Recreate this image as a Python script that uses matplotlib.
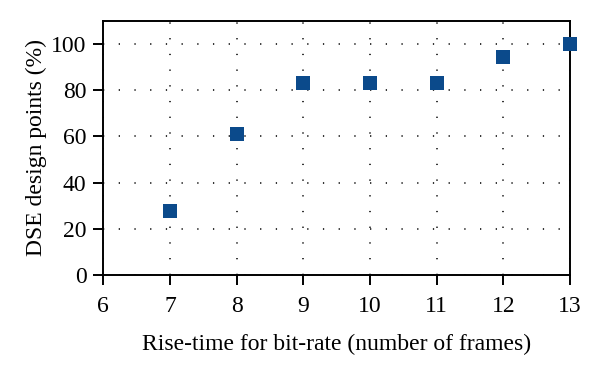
import matplotlib.pyplot as plt

# Rise-time (frames) vs. share of DSE design points
rise_time = [7, 8, 9, 10, 11, 12, 13]
dse_points = [27.5, 61, 83, 83, 83, 94.5, 100]

x_ticks = [6, 7, 8, 9, 10, 11, 12, 13]
y_ticks = [0, 20, 40, 60, 80, 100]

plt.rcParams["font.family"] = ["Liberation Serif", "DejaVu Serif"]

fig = plt.figure(figsize=(6, 3.72), dpi=100)
ax = fig.add_axes([0.172, 0.261, 0.778, 0.683])

ax.scatter(rise_time, dse_points, marker="s", s=115, color="#0b4a8b",
           zorder=3, linewidths=0, clip_on=False)

ax.set_xlim(6, 13)
ax.set_ylim(0, 110)
ax.set_xticks(x_ticks)
ax.set_yticks(y_ticks)
ax.grid(True, color="#222222", linestyle=(0, (0.7, 8)), linewidth=1.3)

for sp in ax.spines.values():
    sp.set_linewidth(1.4)
ax.tick_params(direction="out", length=7, width=1.4, labelsize=17, pad=5)
ax.tick_params(axis="x", pad=8)

ax.set_xlabel("Rise-time for bit-rate (number of frames)", fontsize=17, labelpad=12)
ax.set_ylabel("DSE design points (%)", fontsize=17, labelpad=3)

fig.savefig("out.png", dpi=100)
